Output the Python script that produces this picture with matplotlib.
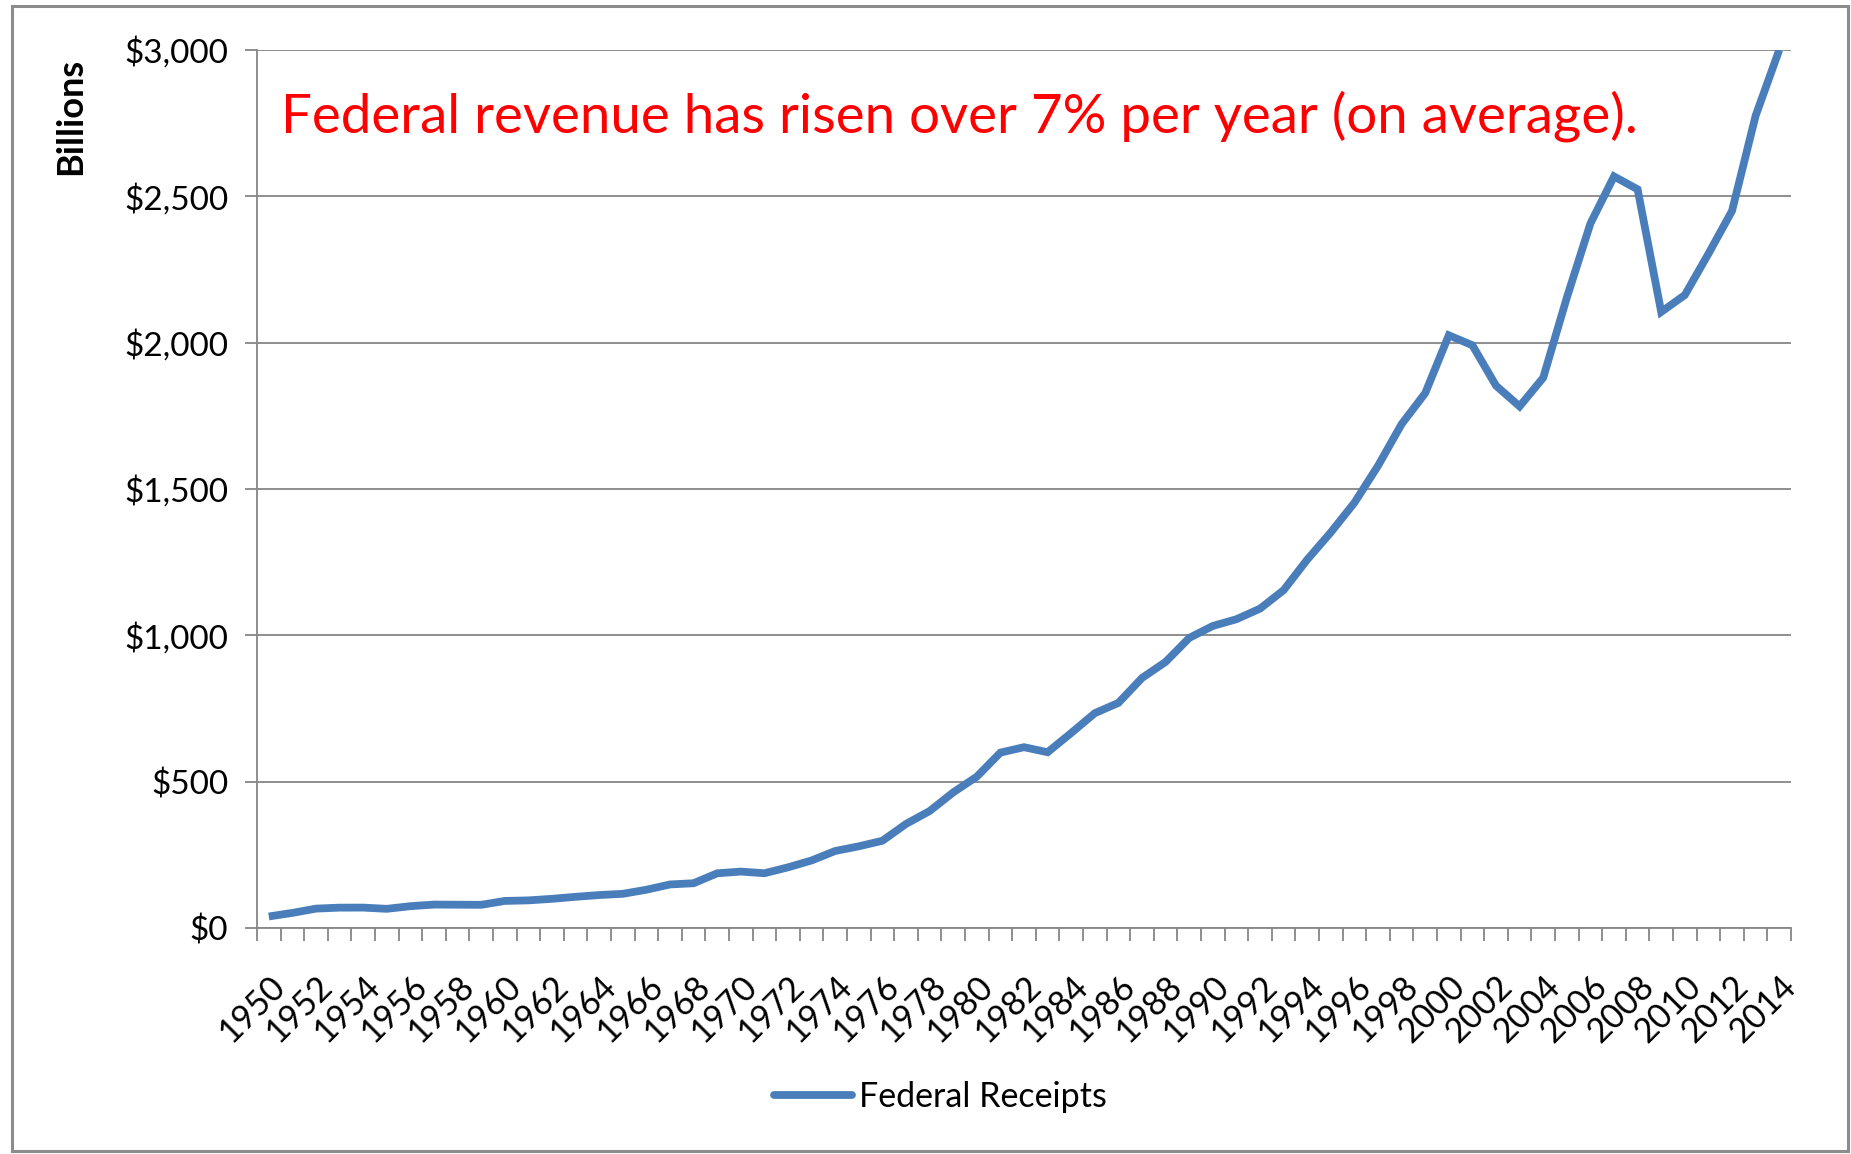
import numpy as np
import matplotlib.pyplot as plt
from matplotlib.patches import Rectangle
from matplotlib.ticker import FuncFormatter, MultipleLocator
from matplotlib.lines import Line2D

plt.rcParams['font.family'] = ['Lato', 'DejaVu Sans']

years = list(range(1950, 2015))
receipts = [39.4, 51.6, 66.2, 69.6, 69.7, 65.5, 74.6, 80.0, 79.6, 79.2,
            92.5, 94.4, 99.7, 106.6, 112.6, 116.8, 130.8, 148.8, 153.0, 186.9,
            192.8, 187.1, 207.3, 230.8, 263.2, 279.1, 298.1, 355.6, 399.6, 463.3,
            517.1, 599.3, 617.8, 600.6, 666.4, 734.0, 769.2, 854.3, 909.2, 991.1,
            1032.0, 1055.0, 1091.2, 1154.3, 1258.6, 1351.8, 1453.1, 1579.2, 1721.7, 1827.5,
            2025.2, 1991.1, 1853.1, 1782.3, 1880.1, 2153.6, 2406.9, 2568.0, 2524.0, 2105.0,
            2162.7, 2303.5, 2450.0, 2775.1, 3000.0]
label_years = years[::2]

blue = '#4A7EBB'
grey = '#868686'

fig = plt.figure(figsize=(18.51, 11.54), dpi=100)
fig.patches.append(Rectangle((12 / 1851, 3 / 1154), 1836 / 1851, 1145 / 1154,
                             transform=fig.transFigure, fill=False,
                             edgecolor='#8c8c8c', lw=2.2))

ax = fig.add_axes([257 / 1851, 1 - 928 / 1154, (1791 - 257) / 1851, (928 - 50) / 1154])
x = np.arange(len(years))
ax.plot(x, receipts, color=blue, lw=5.6, solid_joinstyle='miter', solid_capstyle='butt')

ax.set_xlim(-0.5, len(years) - 0.5)
ax.set_ylim(0, 3000)

ax.yaxis.set_major_locator(MultipleLocator(500))
ax.yaxis.set_major_formatter(FuncFormatter(lambda v, p: '${:,.0f}'.format(v)))
ax.grid(axis='y', color=grey, lw=1.3)
ax.set_axisbelow(True)

ax.set_xticks([years.index(y) for y in label_years])
ax.set_xticklabels([str(y) for y in label_years], rotation=45, ha='right', va='top',
                   rotation_mode='anchor')
ax.set_xticks(np.arange(len(years) + 1) - 0.5, minor=True)
ax.tick_params(axis='x', which='major', length=0, pad=30, labelsize=24.5)
ax.tick_params(axis='x', which='minor', length=9.5, width=1.3, color=grey)
ax.tick_params(axis='y', length=8.6, width=1.3, color=grey, pad=12, labelsize=24)

for s in ('top', 'right'):
    ax.spines[s].set_visible(False)
for s in ('left', 'bottom'):
    ax.spines[s].set_color(grey)
    ax.spines[s].set_linewidth(1.3)

ax.set_ylabel('Billions', fontsize=26, fontweight='bold')
ax.yaxis.set_label_coords(-0.111, 0.924)

ax.text(0.0155, 0.925, 'Federal revenue has risen over 7% per year (on average).',
        transform=ax.transAxes, color='#ff0000', fontsize=39.3, va='center', ha='left')

handle = Line2D([], [], color=blue, lw=5.6, solid_capstyle='round')
fig.legend([handle], ['Federal Receipts'], loc='center', bbox_to_anchor=(940 / 1851, 1 - 1097 / 1154),
           frameon=False, fontsize=24.5, handlelength=2.3, handletextpad=0.2)

fig.savefig('out.png', dpi=100)
